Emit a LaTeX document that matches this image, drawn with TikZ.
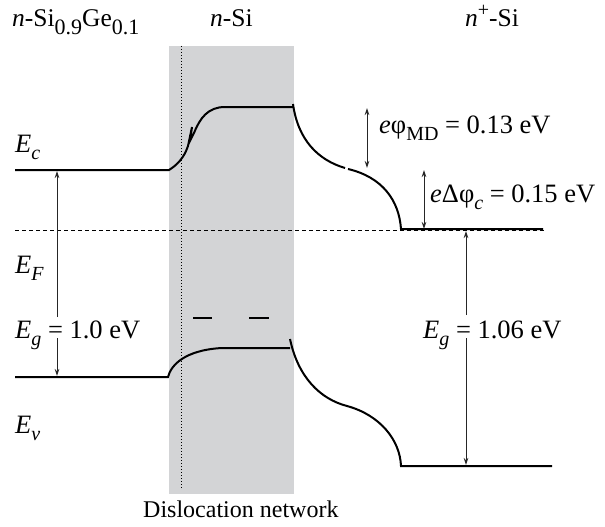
\documentclass[tikz,border=0pt]{standalone}
\usepackage{fontspec}
\setmainfont{Liberation Serif}
\usetikzlibrary{arrows.meta}
\newcommand\lo[1]{\raisebox{-0.3em}{\fontsize{20}{20}\selectfont #1}}
\newcommand\bigsub[1]{\raisebox{-0.3em}{\fontsize{22}{22}\selectfont #1}}
\newcommand\hi[1]{\raisebox{0.42em}{\fontsize{20}{20}\selectfont #1}}
\definecolor{bandgray}{RGB}{211,212,214}
\begin{document}
\begin{tikzpicture}[x=1pt,y=-1pt,
  band/.style={line width=2pt,black},
  arr/.style={line width=1pt,black!85,-{Stealth[length=7pt,width=4.5pt]}},
  darr/.style={line width=1pt,black!85,{Stealth[length=7pt,width=4.5pt]}-{Stealth[length=7pt,width=4.5pt]}},
  lbl/.style={anchor=base west,inner sep=0pt,font=\fontsize{26.5}{30}\selectfont},
  toplbl/.style={lbl,font=\fontsize{25.5}{30}\selectfont}]
\path[use as bounding box] (0,0) rectangle (605,527);
% dislocation network region
\fill[bandgray] (169,46) rectangle (294,494);
\draw[line width=1pt,dotted] (181,46) -- (181,489);
% Fermi level
\draw[line width=1pt,dash pattern=on 4pt off 3pt] (15,230) -- (545,230);
% conduction band
\draw[band] (15,170) -- (169,170) .. controls (177,165) and (184,158) .. (188,146)
  -- (192,127) -- (190,141) -- (194,133) .. controls (200,118) and (208,107) .. (225,107) -- (293,107);
\draw[band] (293,104) .. controls (298,140) and (318,160) .. (345,168);
\draw[band] (348,169) .. controls (382,177) and (399,200) .. (401,229) -- (543,229);
% valence band
\draw[band] (15,377) -- (168,377) .. controls (171,365) and (185,350) .. (222,348) -- (290,348);
\draw[band] (290,339) .. controls (298,377) and (320,399) .. (347,406)
  .. controls (380,415) and (400,440) .. (401,466) -- (552,466);
% trap levels
\draw[band] (193,318) -- (212,318);
\draw[band] (249,318) -- (269,318);
% top labels
\node[toplbl] (tSiGe) at (12,27) {\textit{n}-Si\bigsub{0.9}Ge\bigsub{0.1}};
\node[toplbl] (tSi) at (210,27) {\textit{n}-Si};
\node[toplbl] (tnSi) at (465,27) {\textit{n}\hi{+}-Si};
% left labels
\node[lbl] (Ec) at (15,152) {\textit{E}\lo{\textit{c}}};
\node[lbl] (EF) at (15,273) {\textit{E}\lo{\textit{F}}};
\node[lbl] (Egl) at (15,338) {\textit{E}\lo{\textit{g}} = 1.0 eV};
\node[lbl] (Ev) at (15,433) {\textit{E}\lo{\textit{v}}};
% right labels
\node[lbl] (phiMD) at (379,133) {\textit{e}φ\lo{MD} = 0.13 eV};
\node[lbl] (dphic) at (430,202) {\textit{e}Δφ\lo{\textit{c}} = 0.15 eV};
\node[lbl] (Egr) at (423,338) {\textit{E}\lo{\textit{g}} = 1.06 eV};
\node[anchor=base west,inner sep=0pt,font=\fontsize{24}{28}\selectfont] (dn) at (143,517) {Dislocation network};
% arrow end points
\coordinate (lEc) at (57,171);
\coordinate (lEv) at (57,376);
\coordinate (mdT) at (367,108);
\coordinate (mdB) at (367,168);
\coordinate (dcT) at (424,170);
\coordinate (dcB) at (424,229);
\coordinate (rEF) at (466,231);
\coordinate (rEv) at (466,465);
% arrows
\draw[arr] (57,317) -- (lEc);
\draw[arr] (57,338) -- (lEv);
\draw[darr] (mdT) -- (mdB);
\draw[darr] (dcT) -- (dcB);
\draw[arr] (466,315) -- (rEF);
\draw[arr] (466,338) -- (rEv);
\end{tikzpicture}
\end{document}
